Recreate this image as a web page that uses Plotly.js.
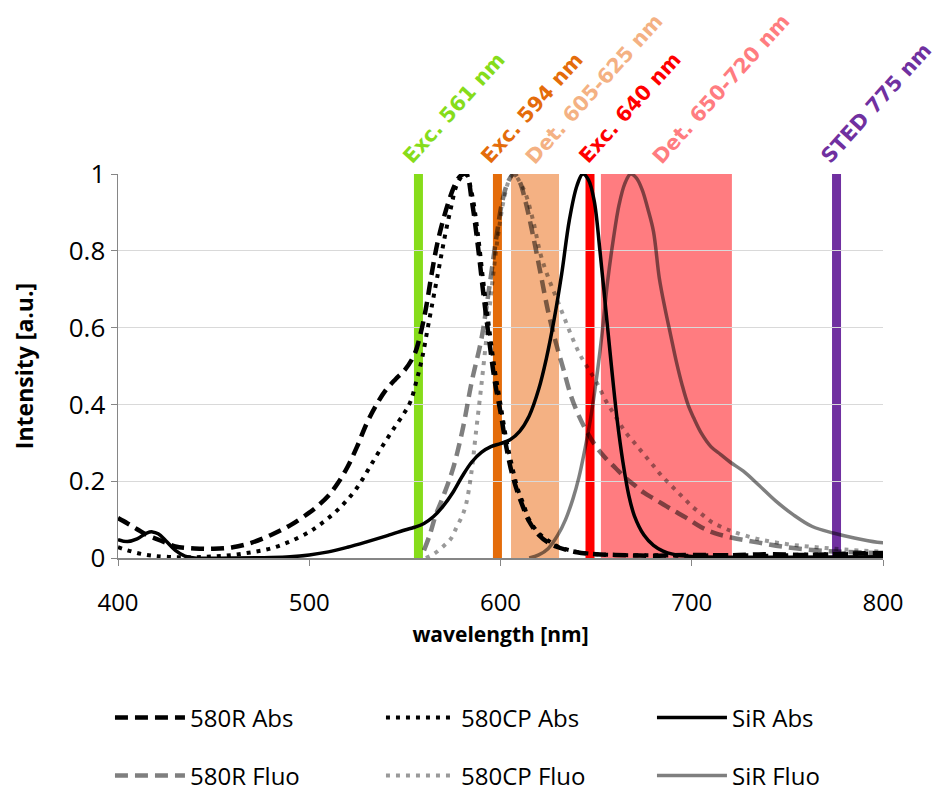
<!DOCTYPE html>
<html><head><meta charset="utf-8">
<script src="https://cdn.plot.ly/plotly-3.0.1.min.js"></script>
<style>html,body{margin:0;padding:0;background:#fff}#chart{width:938px;height:795px}</style>
</head><body><div id="chart"></div><script>
// ---- data ----
const rAbsX = [400,405,410,415,420,425,430,440,450,460,470,480,490,500,505,510,515,520,525,530,535,540,545,550,555,558,561,564,567,570,573,576,579,582,585,588,591,594,597,600,603,606,609,612,615,620,625,630,640,650,660,680,700,720,740,760,780,800];
const rAbsY = [0.104,0.09,0.075,0.06,0.05,0.04,0.03,0.025,0.024,0.028,0.04,0.06,0.085,0.118,0.138,0.162,0.195,0.237,0.29,0.35,0.398,0.437,0.465,0.49,0.53,0.58,0.65,0.74,0.82,0.88,0.93,0.97,0.995,1.0,0.93,0.82,0.69,0.57,0.46,0.38,0.29,0.22,0.17,0.13,0.095,0.06,0.04,0.028,0.015,0.01,0.008,0.006,0.008,0.007,0.01,0.008,0.011,0.013];

const cpAbsX = [400,405,410,415,420,430,440,450,460,470,480,490,500,505,510,515,520,525,530,535,540,545,550,553,556,559,562,565,568,571,574,577,580,582,585,588,591,594,597,600,603,606,609,612,615,620,625,630,640,650,660,680,700,720,740,760,780,800];
const cpAbsY = [0.028,0.02,0.013,0.008,0.005,0.002,0.002,0.004,0.008,0.015,0.025,0.043,0.068,0.085,0.104,0.126,0.152,0.183,0.223,0.265,0.305,0.343,0.38,0.408,0.46,0.52,0.60,0.68,0.76,0.84,0.91,0.97,0.995,1.0,0.95,0.85,0.72,0.60,0.49,0.40,0.31,0.24,0.18,0.14,0.10,0.065,0.045,0.03,0.016,0.01,0.008,0.007,0.006,0.008,0.006,0.009,0.01,0.012];

const sirAbsX = [400,405,410,415,418,421,425,430,435,440,460,480,490,500,510,520,530,540,550,555,560,565,570,575,580,585,590,595,600,605,610,615,620,624,628,632,636,640,643,646,649,652,655,658,661,664,667,670,675,680,685,690,700,720,750,800];
const sirAbsY = [0.048,0.043,0.05,0.065,0.068,0.063,0.045,0.02,0.005,0.0,0.0,0.001,0.003,0.008,0.016,0.028,0.042,0.057,0.073,0.08,0.09,0.108,0.135,0.17,0.213,0.25,0.275,0.29,0.298,0.308,0.33,0.37,0.44,0.52,0.62,0.74,0.88,0.97,1.0,0.985,0.93,0.80,0.65,0.50,0.36,0.25,0.165,0.11,0.06,0.033,0.018,0.01,0.004,0.002,0.002,0.003];

const rFluoX = [560,563,566,570,575,580,585,590,594,598,601,604,607,610,613,617,621,625,629,633,637,641,645,650,655,660,665,670,675,680,685,690,697,705,712,720,735,750,765,780,800];
const rFluoY = [0.02,0.06,0.11,0.16,0.23,0.33,0.46,0.57,0.70,0.84,0.93,0.98,1.0,0.98,0.93,0.84,0.74,0.64,0.56,0.49,0.42,0.37,0.33,0.29,0.26,0.235,0.21,0.19,0.17,0.155,0.14,0.125,0.105,0.08,0.065,0.054,0.04,0.028,0.02,0.016,0.012];

const cpFluoX = [561,565,570,574,577,580,582,585,587,590,593,596,599,602,605,607,610,613,617,621,625,629,633,637,641,645,650,655,660,665,670,675,680,685,690,695,700,705,710,715,722,735,750,765,780,800];
const cpFluoY = [0.0,0.01,0.03,0.05,0.08,0.11,0.14,0.23,0.32,0.45,0.59,0.73,0.85,0.94,0.99,1.0,0.98,0.95,0.88,0.79,0.73,0.68,0.63,0.58,0.535,0.50,0.46,0.41,0.37,0.33,0.30,0.27,0.24,0.21,0.185,0.16,0.135,0.115,0.095,0.082,0.068,0.049,0.036,0.028,0.022,0.016];

const sirFluoX = [615,620,625,630,634,638,641,644,647,650,653,656,659,662,665,668,671,674,677,680,683,686,689,692,695,698,701,705,710,715,720,727,735,744,753,763,774,785,797,800];
const sirFluoY = [0.0,0.008,0.025,0.06,0.10,0.156,0.21,0.28,0.36,0.46,0.58,0.72,0.83,0.92,0.975,1.0,0.99,0.96,0.91,0.85,0.73,0.65,0.58,0.51,0.45,0.40,0.365,0.325,0.29,0.27,0.25,0.226,0.19,0.148,0.113,0.082,0.065,0.052,0.041,0.04];

// laser lines and detection windows (nm, as drawn)
const lineNames  = ['Exc. 561 nm','Exc. 594 nm','Exc. 640 nm','STED 775 nm'];
const linePos    = [557.1, 598.4, 646.8, 775.7];
const lineColors = ['#86dc1a','#e46c0a','#ff0000','#7030a0'];
const bandNames  = ['Det. 605-625 nm','Det. 650-720 nm'];
const bandStart  = [605.5, 652.5];
const bandEnd    = [630.6, 721.0];
const bandColors = ['#f4b183','#ff7c80'];

const xTicks = [400,500,600,700,800];
const yTicks = [0,0.2,0.4,0.6,0.8,1];

// ---- chart ----
const F = 'Open Sans, sans-serif';
const traces = [
  {name:'580R Abs', x:rAbsX, y:rAbsY, line:{color:'#000', width:4.5, dash:'13px,7px'}, legend:'legend'},
  {name:'580CP Abs', x:cpAbsX, y:cpAbsY, line:{color:'#000', width:4, dash:'4px,6px'}, legend:'legend'},
  {name:'SiR Abs', x:sirAbsX, y:sirAbsY, line:{color:'#000', width:3.5}, legend:'legend'},
  {name:'580R Fluo', x:rFluoX, y:rFluoY, line:{color:'rgba(0,0,0,0.5)', width:4.5, dash:'13px,7px'}, legend:'legend2'},
  {name:'580CP Fluo', x:cpFluoX, y:cpFluoY, line:{color:'rgba(0,0,0,0.4)', width:4, dash:'4px,6px'}, legend:'legend2'},
  {name:'SiR Fluo', x:sirFluoX, y:sirFluoY, line:{color:'rgba(0,0,0,0.5)', width:3.5}, legend:'legend2'}
].map(t => Object.assign({type:'scatter', mode:'lines', hoverinfo:'skip'}, t));
traces.forEach(t => t.line.shape = 'spline');

const shapes = [];
bandStart.forEach((b,i) => shapes.push({type:'rect', xref:'x', yref:'y', x0:b, x1:bandEnd[i], y0:0, y1:1,
  fillcolor:bandColors[i], line:{width:0}, layer:'below'}));
linePos.forEach((p,i) => shapes.push({type:'line', xref:'x', yref:'y', x0:p, x1:p, y0:0, y1:1,
  line:{color:lineColors[i], width:9}, layer:'below'}));

const labFont = (c) => ({family:'DejaVu Sans, sans-serif', size:20.5, color:c});
const lineShift = [-23,-24,-19,-23];
const bandShift = [7,44];
const annotations = [];
linePos.forEach((p,i) => annotations.push({x:p, y:1, xref:'x', yref:'paper', text:'<b>'+lineNames[i]+'</b>',
  showarrow:false, textangle:-48, xanchor:'left', yanchor:'bottom', xshift:lineShift[i], yshift:3, font:labFont(lineColors[i])}));
bandStart.forEach((b,i) => annotations.push({x:b, y:1, xref:'x', yref:'paper', text:'<b>'+bandNames[i]+'</b>',
  showarrow:false, textangle:-48, xanchor:'left', yanchor:'bottom', xshift:bandShift[i], yshift:2, font:labFont(bandColors[i])}));

const legBase = {orientation:'h', x:-0.0105, xanchor:'left', yanchor:'middle', itemwidth:70,
  entrywidth:186, entrywidthmode:'pixels', font:{family:F, size:24, color:'#000'},
  bgcolor:'rgba(0,0,0,0)', traceorder:'normal'};

const layout = {
  width:938, height:795,
  margin:{l:118, r:55, t:174, b:237, autoexpand:false},
  paper_bgcolor:'#fff', plot_bgcolor:'#fff',
  showlegend:true,
  font:{family:F, color:'#000'},
  xaxis:{range:[400,800], tickvals:xTicks, ticks:'outside', ticklen:6, tickcolor:'#868686', tickwidth:1,
    showline:true, linecolor:'#868686', linewidth:1.5, showgrid:false, zeroline:false, ticklabelstandoff:17,
    automargin:false, tickfont:{family:F, size:24, color:'#000'},
    title:{text:'<b>wavelength [nm]</b>', font:{family:F, size:21, color:'#000'}, standoff:10}},
  yaxis:{range:[0,1], tickvals:yTicks, ticks:'outside', ticklen:6, tickcolor:'#868686', tickwidth:1,
    showline:true, linecolor:'#868686', linewidth:1.5, showgrid:true, gridcolor:'#d9d9d9', gridwidth:1, zeroline:false,
    automargin:false, tickfont:{family:F, size:26, color:'#000'},
    title:{text:'<b>Intensity [a.u.]</b>', font:{family:F, size:23, color:'#000'}, standoff:28}},
  legend:Object.assign({}, legBase, {y:-0.4167}),
  legend2:Object.assign({}, legBase, {y:-0.5677}),
  shapes:shapes,
  annotations:annotations
};
Plotly.newPlot('chart', traces, layout, {displayModeBar:false, staticPlot:true});
</script></body></html>
